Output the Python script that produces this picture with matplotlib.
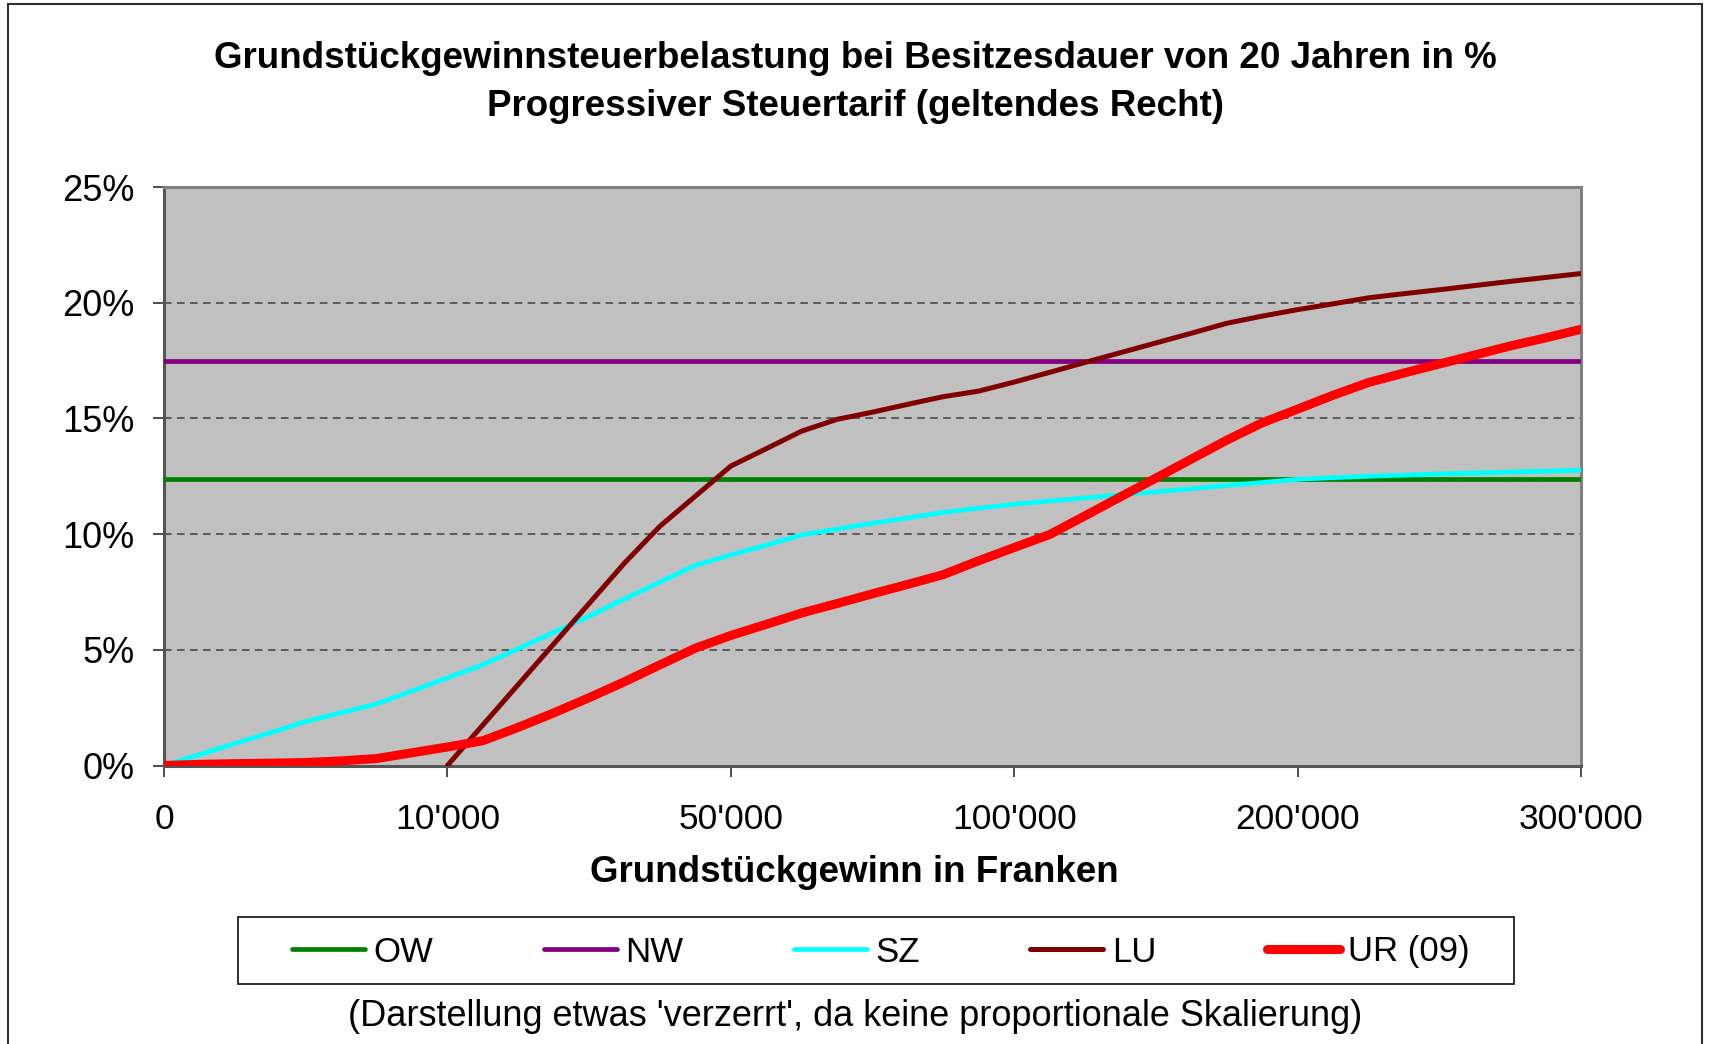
import numpy as np
import matplotlib
matplotlib.use('Agg')
import matplotlib.pyplot as plt
import matplotlib.patches as patches

plt.rcParams['font.family'] = ['Liberation Sans', 'DejaVu Sans']

# x is a category axis: 8 steps between each labelled amount
tick_labels = ["0", "10'000", "50'000", "100'000", "200'000", "300'000"]
tick_every = 8

# tax burden in %
ow = [12.4, 12.4, 12.4, 12.4, 12.4, 12.4, 12.4, 12.4, 12.4, 12.4, 12.4,
      12.4, 12.4, 12.4, 12.4, 12.4, 12.4, 12.4, 12.4, 12.4, 12.4, 12.4,
      12.4, 12.4, 12.4, 12.4, 12.4, 12.4, 12.4, 12.4, 12.4, 12.4, 12.4,
      12.4, 12.4, 12.4, 12.4, 12.4, 12.4, 12.4, 12.4]
nw = [17.5, 17.5, 17.5, 17.5, 17.5, 17.5, 17.5, 17.5, 17.5, 17.5, 17.5,
      17.5, 17.5, 17.5, 17.5, 17.5, 17.5, 17.5, 17.5, 17.5, 17.5, 17.5,
      17.5, 17.5, 17.5, 17.5, 17.5, 17.5, 17.5, 17.5, 17.5, 17.5, 17.5,
      17.5, 17.5, 17.5, 17.5, 17.5, 17.5, 17.5, 17.5]
sz = [0.0, 0.47, 0.95, 1.42, 1.90, 2.28, 2.66, 3.22, 3.79, 4.35, 5.05,
      5.75, 6.45, 7.2, 7.93, 8.65, 9.10, 9.52, 9.97, 10.22, 10.47, 10.70,
      10.94, 11.12, 11.29, 11.43, 11.56, 11.70, 11.83, 11.96, 12.10, 12.23,
      12.37, 12.44, 12.50, 12.55, 12.60, 12.64, 12.68, 12.72, 12.76]
lu = [None, None, None, None, None, None, None, None,
      0.0, 1.75, 3.5, 5.25, 7.0, 8.75, 10.34, 11.64, 12.94, 13.69, 14.45,
      14.96, 15.27, 15.61, 15.94, 16.18, 16.57, 16.99, 17.42, 17.84, 18.26,
      18.68, 19.11, 19.42, 19.7, 19.95, 20.21, 20.39, 20.56, 20.74, 20.92,
      21.09, 21.26]
ur = [0.0, 0.05, 0.08, 0.1, 0.13, 0.2, 0.3, 0.55, 0.8, 1.07, 1.65, 2.27,
      2.93, 3.62, 4.35, 5.07, 5.62, 6.1, 6.59, 7.0, 7.42, 7.83, 8.25, 8.85,
      9.42, 9.98, 10.79, 11.61, 12.42, 13.24, 14.06, 14.81, 15.4, 16.0,
      16.55, 16.96, 17.35, 17.74, 18.13, 18.48, 18.85]

W, H = 1711, 1044
fig = plt.figure(figsize=(W / 100, H / 100), dpi=100)
ax = fig.add_axes([164 / W, 1 - 765.5 / H, (1581 - 164) / W, (765.5 - 187) / H])
ax.set_facecolor('#C0C0C0')

x = np.arange(len(sz))
series = [
    ('OW', ow, '#008000', 3.4),
    ('NW', nw, '#800080', 3.4),
    ('SZ', sz, '#00FFFF', 3.4),
    ('LU', lu, '#800000', 3.6),
    ('UR (09)', ur, '#FF0000', 6.5),
]
for name, vals, col, lw in series:
    ax.plot(x, np.array(vals, dtype=float), color=col, lw=lw, label=name,
            solid_capstyle='round', solid_joinstyle='round', zorder=3)

ax.set_xlim(0, len(sz) - 1)
ax.set_ylim(0, 25)
ax.set_yticks([0, 5, 10, 15, 20, 25])
ax.set_yticklabels(['0%', '5%', '10%', '15%', '20%', '25%'])
ax.set_xticks(x[::tick_every])
ax.set_xticklabels(tick_labels)
ax.tick_params(axis='y', direction='out', length=8, width=1.2, pad=13,
               labelsize=26, color='#303030')
ax.tick_params(axis='x', direction='out', length=8, width=1.2, pad=19,
               labelsize=25.5, color='#303030')

for yv in [5, 10, 15, 20]:
    ax.axhline(yv, color='#404040', lw=1.1, dashes=(5, 3.5), zorder=1)

for side in ['top', 'right']:
    ax.spines[side].set_color('#808080')
    ax.spines[side].set_linewidth(2.2)
for side in ['left', 'bottom']:
    ax.spines[side].set_color('#555555')
    ax.spines[side].set_linewidth(2.2)

ax.set_xlabel('Grundstückgewinn in Franken', fontsize=26.5, fontweight='bold')
ax.xaxis.set_label_coords((854 - 164) / (1581 - 164), -(873 - 765.5) / (765.5 - 187))
ax.xaxis.label.set_va('center')

fig.text(0.5, 1 - 58 / H,
         'Grundstückgewinnsteuerbelastung bei Besitzesdauer von 20 Jahren in %',
         ha='center', va='center', fontsize=26.5, fontweight='bold')
fig.text(0.5, 1 - 107 / H, 'Progressiver Steuertarif (geltendes Recht)',
         ha='center', va='center', fontsize=26.5, fontweight='bold')

# legend frame, entries spread inside
fig.patches.append(patches.Rectangle((238 / W, 1 - 984 / H), (1514 - 238) / W, 67 / H,
                                     transform=fig.transFigure, fill=True,
                                     facecolor='white', edgecolor='#202020', lw=1.3))
fig.legend(loc='center', bbox_to_anchor=(292 / W, 1 - 972 / H, (1470 - 292) / W, 40 / H),
           mode='expand', ncol=5, frameon=False, fontsize=25, handlelength=2.1,
           handletextpad=0.25, borderpad=0, borderaxespad=0)

fig.text(0.5, 1 - 1017 / H,
         "(Darstellung etwas 'verzerrt', da keine proportionale Skalierung)",
         ha='center', va='center', fontsize=26)

fig.patches.append(patches.Rectangle((8 / W, -0.02), (1702 - 8) / W, 1.02 - 4 / H,
                                     transform=fig.transFigure, fill=False,
                                     edgecolor='#303030', lw=1.5))

fig.savefig('out.png', dpi=100, facecolor='white')
